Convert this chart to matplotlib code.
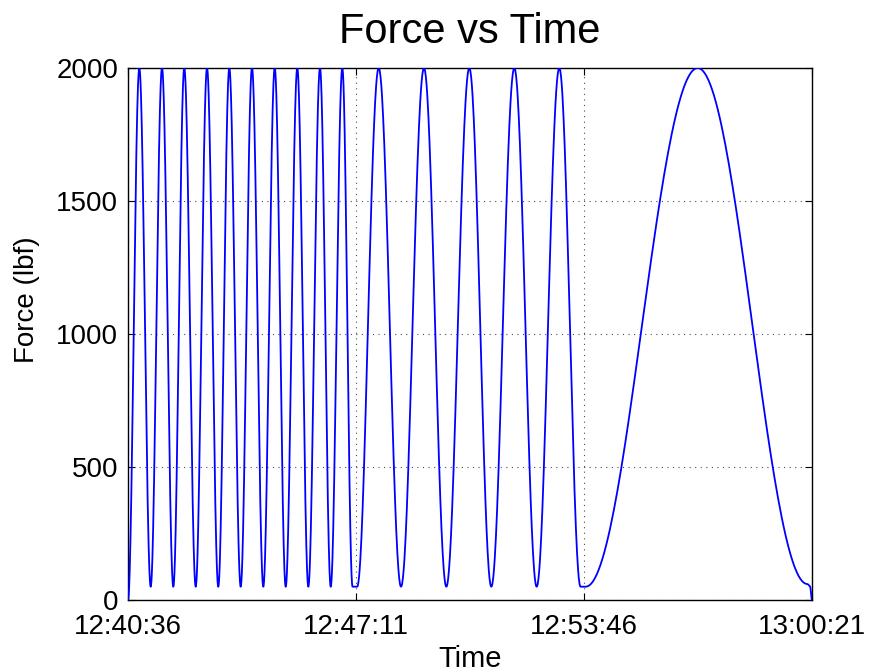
import numpy as np
import matplotlib
matplotlib.use("Agg")
import matplotlib.pyplot as plt

plt.rcParams['font.family'] = ['Liberation Sans', 'DejaVu Sans']

# Load turning points of the test: seconds after 12:40:36 and force (lbf)
turn_times = [0.0,
              19.6, 39.3, 58.9, 78.5, 97.5, 117.3, 136.9, 156.4, 175.5, 195.2,
              214.8, 234.4, 254.2, 273.2, 293.3, 312.4, 332.6, 351.2, 371.3,
              389.0, 397.0,
              434.3, 473.0, 512.8, 551.5, 591.3, 629.4, 669.3, 708.0, 747.2,
              784.0, 793.0,
              987.0, 1177.0, 1181.5, 1185.0]
turn_forces = [0,
               2000, 50, 2000, 50, 2000, 50, 2000, 50, 2000, 50,
               2000, 50, 2000, 50, 2000, 50, 2000, 50, 2000,
               50, 50,
               2000, 50, 2000, 50, 2000, 50, 2000, 50, 2000,
               50, 50,
               2000, 60, 52, 0]

# Time axis
tick_seconds = [0, 395, 790, 1185]
tick_labels = ["12:40:36", "12:47:11", "12:53:46", "13:00:21"]
force_ticks = [0, 500, 1000, 1500, 2000]

# Sinusoidal ramp between successive turning points
t_pts, f_pts = [], []
for (t0, f0), (t1, f1) in zip(zip(turn_times[:-1], turn_forces[:-1]),
                              zip(turn_times[1:], turn_forces[1:])):
    s = np.linspace(0.0, 1.0, 60, endpoint=False)
    t_pts.append(t0 + (t1 - t0) * s)
    f_pts.append(f0 + (f1 - f0) * (1 - np.cos(np.pi * s)) / 2)
t_pts.append([turn_times[-1]])
f_pts.append([turn_forces[-1]])
t_all = np.concatenate(t_pts)
f_all = np.concatenate(f_pts)

fig = plt.figure(figsize=(8.7, 6.72), dpi=100)
ax = fig.add_axes([128 / 870, 72 / 672, 684 / 870, 532 / 672])

ax.plot(t_all, f_all, color=(0, 0, 1), lw=1.3, zorder=3)

ax.set_xlim(tick_seconds[0], tick_seconds[-1])
ax.set_ylim(0, 2000)
ax.set_xticks(tick_seconds)
ax.set_xticklabels(tick_labels)
ax.set_yticks(force_ticks)
ax.set_yticklabels([str(v) for v in force_ticks])

ax.grid(True, color='0.3', linestyle=(0, (1, 4)), linewidth=0.8)
ax.set_axisbelow(True)

ax.tick_params(direction='in', length=5, width=0.8, top=True, right=True,
               labelsize=20, color='black')
ax.tick_params(axis='x', pad=10)
ax.tick_params(axis='y', pad=7)
for sp in ax.spines.values():
    sp.set_linewidth(1.0)
    sp.set_color('black')

ax.set_title("Force vs Time", fontsize=30, pad=18)
ax.set_xlabel("Time", fontsize=21, labelpad=4)
ax.set_ylabel("Force (lbf)", fontsize=20)
ax.yaxis.set_label_coords(-0.128, 0.564)

fig.savefig("out.png", dpi=100, facecolor='white')
